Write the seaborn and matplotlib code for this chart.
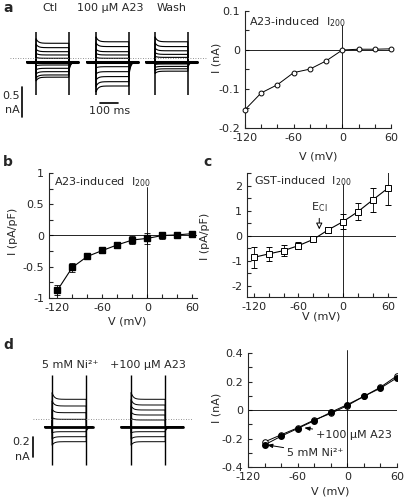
import numpy as np
import pandas as pd
import matplotlib
matplotlib.use("Agg")
import matplotlib.pyplot as plt
import seaborn as sns

sns.set_style("ticks")
plt.rcParams['font.family'] = ['DejaVu Sans']
plt.rcParams['axes.unicode_minus'] = False
plt.rcParams['font.size'] = 7.5

# ---------------- data ----------------
# panel a, current traces (steady levels, nA)
ctl_levels = [0.245, 0.172, 0.105, 0.05, -0.005, -0.117, -0.172, -0.228, -0.283, -0.32]
a23_levels = [0.27, 0.19, 0.105, 0.05, -0.005, -0.145, -0.228, -0.31, -0.395, -0.467]
wash_levels = [0.27, 0.19, 0.12, 0.06, 0.01, -0.10, -0.14, -0.18, -0.22]
hold_a = -0.065
trace_titles_a = ["Ctl", "100 \u00b5M A23", "Wash"]

# panel a, IV
v_a = [-120, -100, -80, -60, -40, -20, 0, 20, 40, 60]
i_a = [-0.153, -0.110, -0.089, -0.058, -0.049, -0.028, 0.0, 0.002, 0.002, 0.003]

# panel b
v_b = [-120, -100, -80, -60, -40, -20, 0, 20, 40, 60]
i_b = [-0.88, -0.51, -0.335, -0.24, -0.15, -0.072, -0.046, 0.0, 0.01, 0.03]
e_b = [0.08, 0.07, 0.03, 0.04, 0.05, 0.07, 0.09, 0.05, 0.03, 0.03]

# panel c
v_c = [-120, -100, -80, -60, -40, -20, 0, 20, 40, 60]
i_c = [-0.87, -0.73, -0.60, -0.40, -0.15, 0.23, 0.56, 0.96, 1.43, 1.89]
e_c = [0.41, 0.27, 0.23, 0.13, 0.05, 0.12, 0.30, 0.33, 0.47, 0.65]
e_cl = -32

# panel d, traces
ni_levels = [0.197, 0.13, 0.063, -0.003, -0.127, -0.177, -0.227]
a23d_levels = [0.197, 0.14, 0.09, 0.04, -0.01, -0.127, -0.177, -0.227]
hold_d = -0.08
trace_titles_d = ["5 mM Ni\u00b2\u207a", "+100 \u00b5M A23"]

# panel d, IV
v_d = [-100, -80, -60, -40, -20, 0, 20, 40, 60]
i_d_open = [-0.224, -0.174, -0.125, -0.07, -0.024, 0.031, 0.096, 0.16, 0.24]
i_d_fill = [-0.245, -0.184, -0.13, -0.075, -0.016, 0.038, 0.096, 0.153, 0.226]

W, H = 406, 498
fig = plt.figure(figsize=(W / 100, H / 100), dpi=100)


def rect(x0, y0, x1, y1):
    return [x0 / W, 1 - y1 / H, (x1 - x0) / W, (y1 - y0) / H]


def sweeps(levels, hold, t_on, dur, pre, post, tailk, group):
    rows = []
    for k, lev in enumerate(levels):
        t = np.linspace(t_on - pre, t_on + dur + post, 400)
        cur = np.full_like(t, hold)
        on = (t >= t_on) & (t <= t_on + dur)
        cur[on] = lev + 0.25 * (lev - hold) * np.exp(-(t[on] - t_on) / 12)
        off = t > t_on + dur
        cur[off] = hold + tailk * min(lev - hold, 0) * np.exp(-(t[off] - t_on - dur) / 9)
        for tt, cc in zip(t, cur):
            rows.append((group, k, tt, cc))
    return rows


# ---------- panel a traces ----------
ta = fig.add_axes(rect(0, 20, 200, 125))
ta.set_xlim(0, 1111)
ta.set_ylim(-1.117, 0.633)
ta.axis("off")
starts_a = [200, 533, 861]
dur_a = 183
rows = []
for g, (lv, st) in enumerate(zip([ctl_levels, a23_levels, wash_levels], starts_a)):
    rows += sweeps(lv, hold_a, st, dur_a, 50, 50, 0.6, g)
df_a = pd.DataFrame(rows, columns=["g", "sweep", "t", "i"])
df_a["unit"] = df_a["g"] * 100 + df_a["sweep"]
sns.lineplot(data=df_a, x="t", y="i", units="unit", estimator=None, sort=False,
             color="black", lw=0.8, ax=ta, legend=False)
for st in starts_a:
    ta.plot([st - 50, st + dur_a + 50], [hold_a, hold_a], color="black", lw=2.2)
    ta.vlines([st, st + dur_a], -0.62, 0.43, color="black", lw=1.1)
ta.plot([55, 1150], [0, 0], ls=(0, (1, 2)), color="0.45", lw=0.6, clip_on=False)
# scale bars
ta.plot([122, 122], [-0.483, -0.983], color="black", lw=1.2)
ta.text(112, -0.64, "0.5", ha="right", va="center", fontsize=8)
ta.text(112, -0.87, "nA", ha="right", va="center", fontsize=8)
ta.plot([556, 656], [-0.75, -0.75], color="black", lw=1.2)
ta.text(606, -0.88, "100 ms", ha="center", va="center", fontsize=8)
for ttl, xp in zip(trace_titles_a, [50, 110, 172]):
    fig.text(xp / W, 1 - 8 / H, ttl, ha="center", va="center", fontsize=8)
fig.text(3 / W, 1 - 8 / H, "a", fontsize=10, fontweight="bold", va="center")
fig.text(3 / W, 1 - 162 / H, "b", fontsize=10, fontweight="bold", va="center")
fig.text(203 / W, 1 - 162 / H, "c", fontsize=10, fontweight="bold", va="center")
fig.text(3 / W, 1 - 345 / H, "d", fontsize=10, fontweight="bold", va="center")


def style_iv(ax, xlim, ylim, yticks, ylabels, yminor, xlab_pos, ylab_pos, ylabel):
    ax.set_xlim(*xlim)
    ax.set_ylim(*ylim)
    ax.set_xticks([-120, -60, 0, 60], ["-120", "-60", "0", "60"])
    ax.set_xticks(np.arange(-120, 61, 20), minor=True)
    ax.set_yticks(yticks, ylabels)
    ax.set_yticks(yminor, minor=True)
    ax.tick_params(which="both", direction="in", length=3, width=0.8, labelsize=8)
    ax.spines["top"].set_visible(False)
    ax.spines["right"].set_visible(False)
    for s in ["left", "bottom"]:
        ax.spines[s].set_linewidth(0.8)
    ax.set_xlabel("V (mV)", fontsize=8)
    ax.set_ylabel(ylabel, fontsize=8)
    ax.xaxis.set_label_coords(*xlab_pos)
    ax.yaxis.set_label_coords(*ylab_pos)
    ax.axhline(0, color="black", lw=0.6)


# ---------- panel a IV ----------
ax_a = fig.add_axes(rect(245, 11, 391, 128))
style_iv(ax_a, (-120, 60), (-0.2, 0.1), [0.1, 0, -0.1, -0.2], ["0.1", "0", "-0.1", "-0.2"],
         np.arange(-0.2, 0.11, 0.05), (0.5, -0.205), (-0.158, 0.6), "I (nA)")
ax_a.axvline(0, ymin=0, ymax=0.88, color="black", lw=0.6)
sns.lineplot(x=v_a, y=i_a, color="black", lw=0.7, ax=ax_a)
ax_a.plot(v_a, i_a, ls="none", marker="o", ms=3.5, mfc="white", mec="black", mew=0.7,
          clip_on=False, zorder=5)
ax_a.text(-115, 0.09, r"A23-induced  I$_{\rm 200}$", ha="left", va="top", fontsize=8)

# ---------- panel b ----------
ax_b = fig.add_axes(rect(49, 173, 197, 298))
style_iv(ax_b, (-131, 66), (-1, 1), [1, 0.5, 0, -0.5, -1], ["1", "0.5", "0", "-0.5", "-1"],
         np.arange(-1, 1.01, 0.25), (0.53, -0.152), (-0.21, 0.53), "I (pA/pF)")
ax_b.axvline(0, ymin=0, ymax=0.89, color="black", lw=0.6)
sns.lineplot(x=v_b, y=i_b, color="black", lw=0.8, ax=ax_b)
ax_b.errorbar(v_b, i_b, yerr=e_b, fmt="s", ms=4, color="black", mfc="black",
              ecolor="black", elinewidth=0.6, capsize=2.5, capthick=0.6, zorder=5)
ax_b.text(-125, 0.97, r"A23-induced  I$_{\rm 200}$", ha="left", va="top", fontsize=8)

# ---------- panel c ----------
ax_c = fig.add_axes(rect(247, 173, 396, 297))
style_iv(ax_c, (-129, 71), (-2.45, 2.5), [2, 1, 0, -1, -2], ["2", "1", "0", "-1", "-2"],
         np.arange(-2, 2.51, 0.5), (0.5, -0.12), (-0.25, 0.49), "I (pA/pF)")
ax_c.axvline(0, ymin=0, ymax=0.91, color="black", lw=0.6)
sns.lineplot(x=v_c, y=i_c, color="black", lw=0.8, ax=ax_c)
ax_c.errorbar(v_c, i_c, yerr=e_c, fmt="s", ms=4.5, color="black", mfc="white", mec="black",
              mew=0.7, ecolor="black", elinewidth=0.6, capsize=2.5, capthick=0.6, zorder=5)
ax_c.text(-119, 2.45, r"GST-induced  I$_{\rm 200}$", ha="left", va="top", fontsize=8)
ax_c.annotate("", xy=(e_cl, 0.14), xytext=(e_cl, 0.8),
              arrowprops=dict(arrowstyle="-|>,head_length=0.5,head_width=0.25",
                              fc="white", ec="black", lw=0.7))
ax_c.text(e_cl + 1, 0.85, r"E$_{\rm C\,l}$", ha="center", va="bottom", fontsize=8)

# ---------- panel d traces ----------
td = fig.add_axes(rect(0, 370, 200, 470))
td.set_xlim(0, 1111)
td.set_ylim(-0.51, 0.49)
td.axis("off")
starts_d = [289, 728]
dur_d = 190
rows = []
rows += sweeps(ni_levels, hold_d, starts_d[0], dur_d, 40, 35, 0.3, 0)
rows += sweeps(a23d_levels, hold_d, starts_d[1], dur_d, 55, 100, 0.3, 1)
df_d = pd.DataFrame(rows, columns=["g", "sweep", "t", "i"])
df_d["unit"] = df_d["g"] * 100 + df_d["sweep"]
sns.lineplot(data=df_d, x="t", y="i", units="unit", estimator=None, sort=False,
             color="black", lw=0.7, ax=td, legend=False)
td.plot([starts_d[0] - 40, starts_d[0] + dur_d + 35], [hold_d, hold_d], color="black", lw=2.0)
td.plot([starts_d[1] - 55, starts_d[1] + dur_d + 100], [hold_d, hold_d], color="black", lw=2.0)
for st in starts_d:
    td.vlines([st, st + dur_d], -0.46, 0.44, color="black", lw=1.0)
td.plot([183, 1067], [0, 0], ls=(0, (1, 2)), color="0.45", lw=0.6)
td.plot([183, 183], [-0.18, -0.38], color="black", lw=1.2)
td.text(167, -0.23, "0.2", ha="right", va="center", fontsize=8)
td.text(167, -0.38, "nA", ha="right", va="center", fontsize=8)
for ttl, xp in zip(trace_titles_d, [70, 148]):
    fig.text(xp / W, 1 - 365 / H, ttl, ha="center", va="center", fontsize=8)

# ---------- panel d IV ----------
ax_d = fig.add_axes(rect(248, 353, 397, 467))
style_iv(ax_d, (-120, 60), (-0.4, 0.4), [0.4, 0.2, 0, -0.2, -0.4],
         ["0.4", "0.2", "0", "-0.2", "-0.4"], np.arange(-0.4, 0.41, 0.1),
         (0.55, -0.175), (-0.175, 0.52), "I (nA)")
ax_d.axvline(0, ymin=0, ymax=1.03, color="black", lw=0.6, clip_on=False)
sns.lineplot(x=v_d, y=i_d_open, color="black", lw=0.7, ax=ax_d)
sns.lineplot(x=v_d, y=i_d_fill, color="black", lw=0.7, ax=ax_d)
ax_d.plot(v_d, i_d_open, ls="none", marker="o", ms=4, mfc="white", mec="black", mew=0.7, zorder=5)
ax_d.plot(v_d, i_d_fill, ls="none", marker="o", ms=4, mfc="black", mec="black", zorder=6)
ax_d.annotate("+100 \u00b5M A23", xy=(-52, -0.125), xytext=(-38, -0.175), fontsize=8,
              ha="left", va="center",
              arrowprops=dict(arrowstyle="-|>,head_length=0.4,head_width=0.15",
                              color="black", lw=0.7, shrinkA=0, shrinkB=0))
ax_d.annotate("5 mM Ni\u00b2\u207a", xy=(-97, -0.245), xytext=(-73, -0.3), fontsize=8,
              ha="left", va="center",
              arrowprops=dict(arrowstyle="-|>,head_length=0.4,head_width=0.15",
                              color="black", lw=0.7, shrinkA=0, shrinkB=0))

fig.savefig("out.png", dpi=100)
